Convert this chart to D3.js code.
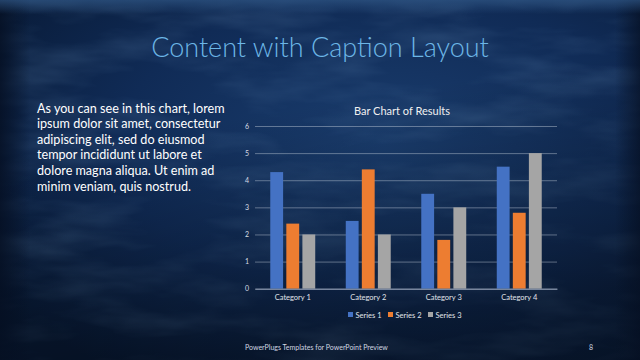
<!DOCTYPE html>
<html><head><meta charset="utf-8">
<script src="https://cdn.jsdelivr.net/npm/d3@7"></script>
<style>html,body{margin:0;padding:0;background:#0b1f40;}svg{display:block;}</style>
</head><body>
<svg id="c" width="640" height="360"></svg>
<script>
const categories = ["Category 1", "Category 2", "Category 3", "Category 4"];
const seriesNames = ["Series 1", "Series 2", "Series 3"];
const series1 = [4.3, 2.5, 3.5, 4.5];
const series2 = [2.4, 4.4, 1.8, 2.8];
const series3 = [2, 2, 3, 5];
const yTicks = [0, 1, 2, 3, 4, 5, 6];
const captionLines = [
  "As you can see in this chart, lorem",
  "ipsum dolor sit amet, consectetur",
  "adipiscing elit, sed do eiusmod",
  "tempor incididunt ut labore et",
  "dolore magna aliqua. Ut enim ad",
  "minim veniam, quis nostrud."
];
const colors = ["#4472C4", "#ED7D31", "#A5A5A5"];
const allSeries = [series1, series2, series3];

const svg = d3.select("#c");
const defs = svg.append("defs");
const rg = defs.append("radialGradient").attr("id","bg").attr("cx","0.6").attr("cy","0.4").attr("r","0.75");
rg.append("stop").attr("offset","0").attr("stop-color","#1a3d6e");
rg.append("stop").attr("offset","0.55").attr("stop-color","#102b56");
rg.append("stop").attr("offset","1").attr("stop-color","#081a36");
svg.append("rect").attr("width",640).attr("height",360).attr("fill","url(#bg)");

// streaky texture
const f = defs.append("filter").attr("id","tex").attr("x",0).attr("y",0).attr("width","100%").attr("height","100%");
f.append("feTurbulence").attr("type","fractalNoise").attr("baseFrequency","0.008 0.03").attr("numOctaves",4).attr("seed",7).attr("result","n");
f.append("feColorMatrix").attr("in","n").attr("type","matrix")
  .attr("values","0 0 0 0 0.2  0 0 0 0 0.38  0 0 0 0 0.62  1.4 0 0 0 -0.6");
svg.append("rect").attr("width",640).attr("height",360).attr("filter","url(#tex)").attr("opacity",0.3);

// darker bottom-left area
const lg = defs.append("linearGradient").attr("id","shade").attr("x1","0").attr("y1","0").attr("x2","0.3").attr("y2","1");
lg.append("stop").attr("offset","0.4").attr("stop-color","#000").attr("stop-opacity",0);
lg.append("stop").attr("offset","1").attr("stop-color","#000").attr("stop-opacity",0.35);
svg.append("rect").attr("width",640).attr("height",360).attr("fill","url(#shade)");
// grunge edges
const eg = defs.append("linearGradient").attr("id","left").attr("x1","0").attr("x2","1");
eg.append("stop").attr("offset","0").attr("stop-color","#050f22").attr("stop-opacity",0.8);
eg.append("stop").attr("offset","1").attr("stop-color","#050f22").attr("stop-opacity",0);
svg.append("rect").attr("x",0).attr("y",0).attr("width",30).attr("height",360).attr("fill","url(#left)");
const eg2 = defs.append("linearGradient").attr("id","right").attr("x1","1").attr("x2","0");
eg2.append("stop").attr("offset","0").attr("stop-color","#050f22").attr("stop-opacity",0.7);
eg2.append("stop").attr("offset","1").attr("stop-color","#050f22").attr("stop-opacity",0);
svg.append("rect").attr("x",615).attr("y",0).attr("width",25).attr("height",360).attr("fill","url(#right)");
const eg3 = defs.append("linearGradient").attr("id","top").attr("x1","0").attr("y1","0").attr("x2","0").attr("y2","1");
eg3.append("stop").attr("offset","0").attr("stop-color","#2f5685").attr("stop-opacity",0.7);
eg3.append("stop").attr("offset","1").attr("stop-color","#2f5685").attr("stop-opacity",0);
svg.append("rect").attr("x",0).attr("y",0).attr("width",640).attr("height",14).attr("fill","url(#top)");

const font = "Lato, 'Open Sans', sans-serif";

svg.append("text").attr("x",320).attr("y",57).attr("text-anchor","middle")
  .attr("font-family",font).attr("font-weight",300).attr("font-size",27).attr("fill","#6cb6e6")
  .text("Content with Caption Layout");

const cap = svg.append("text").attr("font-family",font).attr("font-size",12.6).attr("fill","#ffffff");
captionLines.forEach((l,i)=>cap.append("tspan").attr("x",37).attr("y",112.5+i*15.6).text(l));

// chart
const x0 = d3.scaleBand().domain(categories).range([255,557]).paddingInner(0).paddingOuter(0);
const x1 = d3.scaleBand().domain(seriesNames).range([0,x0.bandwidth()]).paddingInner(0.2).paddingOuter(0.95);
const y = d3.scaleLinear().domain([0,6]).range([288.7,126]);

svg.append("text").attr("x",402).attr("y",114.5).attr("text-anchor","middle")
  .attr("font-family",font).attr("font-size",11).attr("fill","#f0f0f0").text("Bar Chart of Results");

const yAxis = d3.axisLeft(y).tickValues(yTicks).tickSize(-(557-255)).tickFormat(d3.format("d"));
const ga = svg.append("g").attr("transform","translate(255,0)").call(yAxis);
ga.select(".domain").remove();
ga.selectAll(".tick line").attr("stroke","#c8d0dc").attr("stroke-opacity",0.55).attr("stroke-width",0.8);
ga.selectAll(".tick text").attr("x",-6).attr("font-family",font).attr("font-size",7).attr("fill","#d8dde6");

allSeries.forEach((s,si)=>{
  svg.append("g").selectAll("rect").data(s).join("rect")
    .attr("x",(d,i)=>x0(categories[i])+x1(seriesNames[si]))
    .attr("width",x1.bandwidth())
    .attr("y",d=>y(d)).attr("height",d=>y(0)-y(d))
    .attr("fill",colors[si]);
});

const xAxis = d3.axisBottom(x0).tickSize(0).tickPadding(6);
const gx = svg.append("g").attr("transform",`translate(0,${y(0)})`).call(xAxis);
gx.select(".domain").attr("stroke","#8e9cb2").attr("stroke-width",1);
gx.selectAll(".tick text").attr("font-family",font).attr("font-size",7.5).attr("fill","#e0e4ea");

// legend
const legX = [348, 388, 428];
seriesNames.forEach((n,i)=>{
  svg.append("rect").attr("x",legX[i]).attr("y",312).attr("width",5).attr("height",5).attr("fill",colors[i]);
  svg.append("text").attr("x",legX[i]+7.5).attr("y",317.5).attr("font-family",font).attr("font-size",7.5)
    .attr("fill","#e0e4ea").text(n);
});

svg.append("text").attr("x",245).attr("y",350).attr("font-family",font).attr("font-size",7)
  .attr("fill","#d0d6e0").text("PowerPlugs Templates for PowerPoint  Preview");
svg.append("text").attr("x",589).attr("y",350).attr("font-family",font).attr("font-size",7)
  .attr("fill","#d0d6e0").text("8");
</script>
</body></html>
